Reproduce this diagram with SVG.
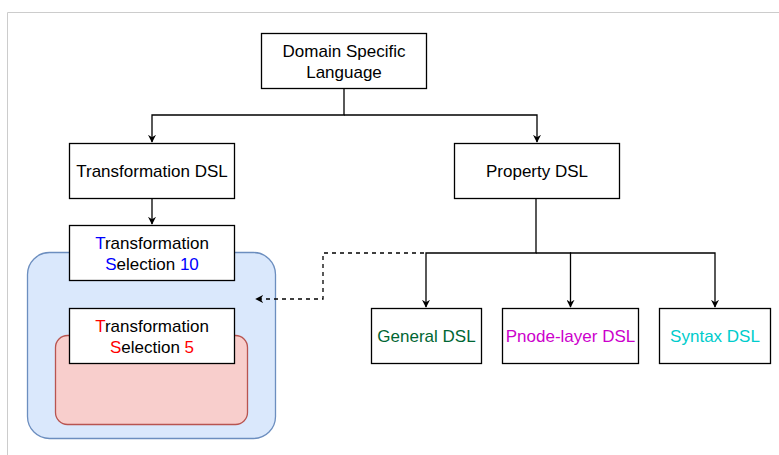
<svg xmlns="http://www.w3.org/2000/svg" width="779" height="455" viewBox="0 0 779 455">
<style>
.box{fill:#fff;stroke:#000;stroke-width:1.3}
.t{font-family:"Liberation Sans",Arial,sans-serif;font-size:17px;text-anchor:middle;fill:#000}
.g{fill:#006633}
.m{fill:#cc00cc}
.c{fill:#00cccc}
.b{fill:#0000ff}
.r{fill:#ff0000}
.ln{fill:none;stroke:#000;stroke-width:1.3}
.dash{stroke-dasharray:4 4}
</style>
<defs>
<marker id="ah" viewBox="0 0 10 10" refX="9" refY="5" markerWidth="8" markerHeight="8" markerUnits="userSpaceOnUse" orient="auto">
<path d="M0,0 L10,5 L0,10 L3,5 Z" fill="#000"/>
</marker>
</defs>
<rect x="0" y="0" width="779" height="455" fill="#fff"/>
<path d="M7.5,455 V12.5 H779" fill="none" stroke="#ccc" stroke-width="1"/>

<g id="containers">
<rect x="27.5" y="252.5" width="248" height="186" rx="22" fill="#dae8fc" stroke="#6c8ebf" stroke-width="1.3"/>
<rect x="55.5" y="335.5" width="192" height="89" rx="12" fill="#f8cecc" stroke="#b85450" stroke-width="1.3"/>
</g>

<g id="connectors">
<path class="ln" d="M344,88 V115 H152 V142" marker-end="url(#ah)"/>
<path class="ln" d="M344,115 H537 V142" marker-end="url(#ah)"/>
<path class="ln" d="M152,198 V224" marker-end="url(#ah)"/>
<path class="ln" d="M536,198 V253 H426 V307" marker-end="url(#ah)"/>
<path class="ln" d="M536,253 H570.5 V307" marker-end="url(#ah)"/>
<path class="ln" d="M570,253 H715 V307" marker-end="url(#ah)"/>
<path class="ln dash" d="M424,253 H323 V299 H256" marker-end="url(#ah)"/>
</g>

<g id="domain">
<rect class="box" x="261.5" y="33.5" width="165" height="55"/>
<text class="t" x="344" y="56.5">Domain Specific</text>
<text class="t" x="344" y="77.5">Language</text>
</g>
<g id="transformation-dsl">
<rect class="box" x="69.5" y="143.5" width="165" height="55"/>
<text class="t" x="152" y="176.5">Transformation DSL</text>
</g>
<g id="property-dsl">
<rect class="box" x="454.5" y="143.5" width="165" height="55"/>
<text class="t" x="537" y="176.5">Property DSL</text>
</g>
<g id="sel10">
<rect class="box" x="69.5" y="225.5" width="165" height="55"/>
<text class="t" x="152" y="248.5"><tspan class="b">T</tspan>ransformation</text>
<text class="t" x="152" y="269.5"><tspan class="b">S</tspan>election <tspan class="b">10</tspan></text>
</g>
<g id="sel5">
<rect class="box" x="69.5" y="308.5" width="165" height="55"/>
<text class="t" x="152" y="331.5"><tspan class="r">T</tspan>ransformation</text>
<text class="t" x="152" y="352.5"><tspan class="r">S</tspan>election <tspan class="r">5</tspan></text>
</g>
<g id="general">
<rect class="box" x="371.5" y="308.5" width="110" height="55"/>
<text class="t g" x="426.5" y="341.5">General DSL</text>
</g>
<g id="pnode">
<rect class="box" x="502.5" y="308.5" width="136" height="55"/>
<text class="t m" x="570.5" y="341.5">Pnode-layer DSL</text>
</g>
<g id="syntax">
<rect class="box" x="659.5" y="308.5" width="111" height="55"/>
<text class="t c" x="715" y="341.5">Syntax DSL</text>
</g>
</svg>
